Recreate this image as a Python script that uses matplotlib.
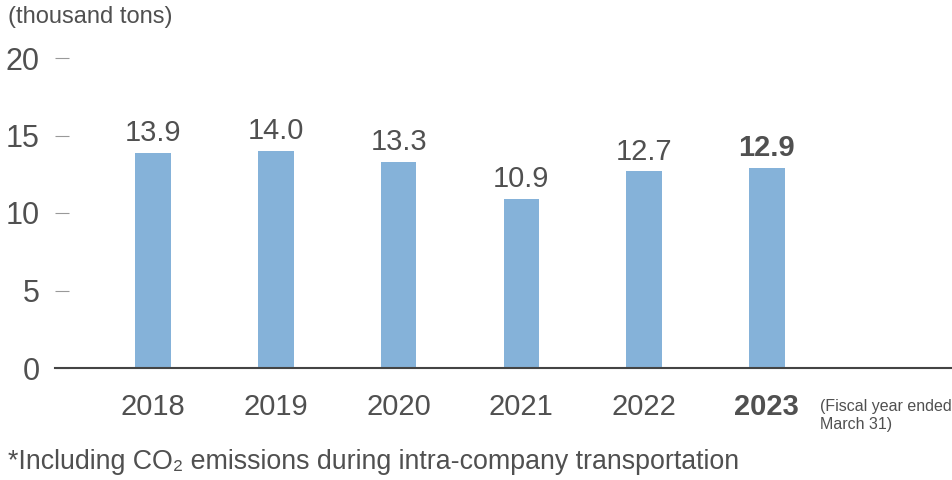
import matplotlib.pyplot as plt
import numpy as np

plt.rcParams['font.family'] = ['Liberation Sans', 'DejaVu Sans']

years = ["2018", "2019", "2020", "2021", "2022", "2023"]
values = [13.9, 14.0, 13.3, 10.9, 12.7, 12.9]
yticks = [0, 5, 10, 15, 20]

TEXT = "#505050"
BAR = "#85b2d9"

fig = plt.figure(figsize=(9.52, 4.8), dpi=100)
ax = fig.add_axes([55 / 952, 1 - 368 / 480, 1 - 55 / 952, 310 / 480])

x = np.arange(len(years))
ax.bar(x, values, width=0.29, color=BAR, zorder=2)

for i, v in enumerate(values):
    bold = i == len(values) - 1
    ax.annotate(f"{v:.1f}", (x[i], v), xytext=(0, 4), textcoords="offset points",
                ha="center", va="bottom", fontsize=21, color=TEXT,
                fontweight="bold" if bold else "normal")

ax.set_xlim(-0.80, 6.51)
ax.set_ylim(0, 20)
ax.set_yticks(yticks)
ax.set_xticks(x)
ax.set_xticklabels(years)
for lbl in ax.get_xticklabels()[-1:]:
    lbl.set_fontweight("bold")

ax.tick_params(axis="y", direction="in", length=10, width=0.8, color="#999999",
               labelsize=22, labelcolor=TEXT, pad=11)
ax.tick_params(axis="x", length=0, labelsize=21, labelcolor=TEXT, pad=18)

for s in ["top", "right", "left"]:
    ax.spines[s].set_visible(False)
ax.spines["bottom"].set_color("#444444")
ax.spines["bottom"].set_linewidth(1.5)

fig.text(8 / 952, 1 - 17 / 480, "(thousand tons)", fontsize=17, color=TEXT,
         ha="left", va="center")
fig.text(820 / 952, 1 - 416 / 480, "(Fiscal year ended\nMarch 31)", fontsize=11.5,
         color=TEXT, ha="left", va="center", linespacing=1.25)
fig.text(8 / 952, 1 - 462 / 480,
         "*Including CO\u2082 emissions during intra-company transportation",
         fontsize=19.3, color=TEXT, ha="left", va="center")

fig.savefig("out.png", dpi=100)
